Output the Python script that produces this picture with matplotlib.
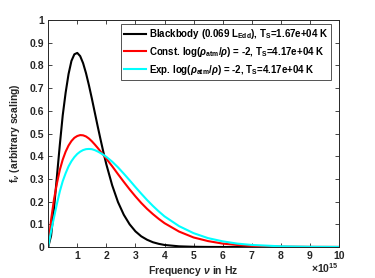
import matplotlib
matplotlib.use("Agg")
import matplotlib.pyplot as plt

plt.rcParams['font.family'] = ['Liberation Sans', 'DejaVu Sans']
plt.rcParams['font.weight'] = 'bold'
plt.rcParams['axes.labelweight'] = 'bold'
plt.rcParams['mathtext.fontset'] = 'custom'
plt.rcParams['mathtext.rm'] = 'Liberation Sans:bold'
plt.rcParams['mathtext.bf'] = 'Liberation Sans:bold'
plt.rcParams['mathtext.it'] = 'Liberation Sans:italic'

# frequency in units of 1e15 Hz
nu = [0, 0.1, 0.2, 0.3, 0.4, 0.5, 0.6, 0.7, 0.8, 0.9, 1.0, 1.1, 1.2, 1.3,
      1.4, 1.5, 1.6, 1.7, 1.8, 1.9, 2.0, 2.2, 2.4, 2.6, 2.8, 3.0, 3.2, 3.4,
      3.6, 3.8, 4.0, 4.5, 5.0, 5.5, 6.0, 6.5, 7.0, 8.0, 9.0, 10.0]

blackbody = [0, 0.05, 0.17, 0.31, 0.45, 0.58, 0.68, 0.762, 0.82, 0.849,
             0.855, 0.841, 0.810, 0.766, 0.713, 0.655, 0.594, 0.533, 0.474,
             0.417, 0.364, 0.272, 0.198, 0.142, 0.100, 0.069, 0.047, 0.032,
             0.021, 0.014, 0.009, 0.003, 0.001, 0.0003, 0.0001, 0, 0, 0, 0, 0]

const_atm = [0, 0.12, 0.21, 0.28, 0.34, 0.385, 0.42, 0.447, 0.467, 0.481,
             0.489, 0.493, 0.492, 0.487, 0.478, 0.466, 0.452, 0.437, 0.421,
             0.405, 0.389, 0.356, 0.321, 0.287, 0.254, 0.223, 0.194, 0.168,
             0.145, 0.124, 0.105, 0.068, 0.042, 0.026, 0.015, 0.009, 0.005,
             0.0015, 0.0004, 0.0001]

exp_atm = [0, 0.07, 0.13, 0.19, 0.245, 0.29, 0.325, 0.355, 0.378, 0.396,
           0.41, 0.42, 0.427, 0.431, 0.432, 0.431, 0.427, 0.421, 0.414,
           0.406, 0.397, 0.376, 0.351, 0.323, 0.294, 0.264, 0.235, 0.207,
           0.181, 0.157, 0.135, 0.092, 0.061, 0.039, 0.025, 0.015, 0.009,
           0.003, 0.001, 0.0003]

labels = [r'Blackbody (0.069 L$_{\mathrm{Edd}}$), T$_{\mathrm{S}}$=1.67e+04 K',
          r'Const. log($\rho_{\mathrm{atm}}/\rho$) = -2, T$_{\mathrm{S}}$=4.17e+04 K',
          r'Exp. log($\rho_{\mathrm{atm}}/\rho$) = -2, T$_{\mathrm{S}}$=4.17e+04 K']
colors = ['black', 'red', 'cyan']

fig = plt.figure(figsize=(3.75, 2.78), dpi=100)
ax = fig.add_axes([0.1285, 0.1115, 0.7755, 0.8165])

for ys, lab, c in zip([blackbody, const_atm, exp_atm], labels, colors):
    ax.plot(nu, ys, color=c, lw=1.5, label=lab)

ax.set_xlim(0, 10)
ax.set_ylim(0, 1)
ax.set_xticks(range(1, 11))
ax.set_yticks([i / 10 for i in range(11)])
ax.set_yticklabels(['0', '0.1', '0.2', '0.3', '0.4', '0.5', '0.6', '0.7',
                    '0.8', '0.9', '1'])
ax.tick_params(direction='in', top=True, right=True, length=3, width=0.6,
               labelsize=7.5, colors='#262626', pad=3)
for s in ax.spines.values():
    s.set_linewidth(0.7)
    s.set_color('#262626')

ax.set_xlabel(r'Frequency $\nu$ in Hz', fontsize=7.5, color='#262626',
              labelpad=2)
ax.set_ylabel(r'f$_{\nu}$ (arbitrary scaling)', fontsize=7.5,
              color='#262626', labelpad=5)
fig.text(0.83, 1 - 273 / 278, r'$\times$10$^{15}$', fontsize=7.5,
         color='#262626', ha='left', va='baseline')

leg = ax.legend(loc='upper right', fontsize=7.0, frameon=True, fancybox=False,
                handlelength=2.3, handletextpad=0.25, borderpad=0.3,
                labelspacing=0.4, borderaxespad=0,
                bbox_to_anchor=(331 / 375, 1 - 24 / 278),
                bbox_transform=fig.transFigure)
leg.get_frame().set_edgecolor('#262626')
leg.get_frame().set_linewidth(0.7)

fig.savefig('out.png', dpi=100)
